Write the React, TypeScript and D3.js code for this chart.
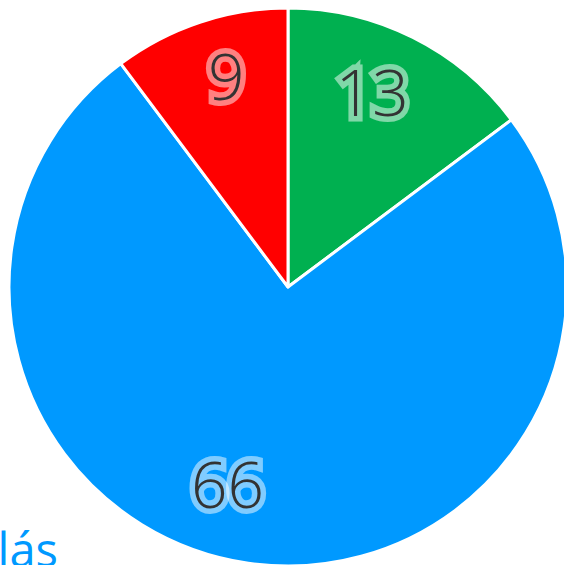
import { useEffect, useRef } from "react";
import * as d3 from "d3";

// slices, clockwise from 12 o'clock
const categories = ["green", "blue", "red"];
const values = [13, 66, 9];
const colors = ["#00b050", "#0099ff", "#ff0000"];
const legendText = "Ajánlás";

export default function App() {
  const ref = useRef<SVGSVGElement | null>(null);

  useEffect(() => {
    const svgEl = ref.current;
    if (!svgEl) return;

    const width = 564;
    const height = 565;
    const cx = 288;
    const cy = 287;
    const r = 279;

    const svg = d3.select(svgEl);
    svg.selectAll("*").remove();
    svg.attr("width", width).attr("height", height).style("display", "block");

    const rows = categories.map((c, i) => ({ name: c, value: values[i], color: colors[i] }));
    const pie = d3.pie<(typeof rows)[number]>().sort(null).value((d) => d.value);
    const arcs = pie(rows);

    const arc = d3.arc<d3.PieArcDatum<(typeof rows)[number]>>().innerRadius(0).outerRadius(r);
    const labelArc = d3
      .arc<d3.PieArcDatum<(typeof rows)[number]>>()
      .innerRadius(r * 0.77)
      .outerRadius(r * 0.77);

    const g = svg.append("g").attr("transform", `translate(${cx},${cy})`);

    g.selectAll("path")
      .data(arcs)
      .enter()
      .append("path")
      .attr("d", arc)
      .attr("fill", (d) => d.data.color)
      .attr("stroke", "#fff")
      .attr("stroke-width", 3)
      .attr("stroke-linejoin", "round");

    // small nudges so labels sit where the original puts them
    const nudge: Record<string, [number, number]> = {
      green: [-12, -2],
      red: [6, -6],
      blue: [-30, -15],
    };

    g.selectAll("text.lbl")
      .data(arcs)
      .enter()
      .append("text")
      .attr("class", "lbl")
      .attr("x", (d) => labelArc.centroid(d)[0] + nudge[d.data.name][0])
      .attr("y", (d) => labelArc.centroid(d)[1] + nudge[d.data.name][1])
      .attr("text-anchor", "middle")
      .attr("dy", "0.36em")
      .attr("font-family", "'Open Sans', sans-serif")
      .attr("font-weight", 300)
      .attr("font-size", 64)
      .attr("fill", "#333")
      .attr("stroke", "rgba(255,255,255,0.5)")
      .attr("stroke-width", 11)
      .attr("stroke-linejoin", "miter")
      .attr("paint-order", "stroke")
      .text((d) => d.data.value);

    svg
      .append("text")
      .attr("x", 58)
      .attr("y", 567)
      .attr("text-anchor", "end")
      .attr("font-family", "'Open Sans', sans-serif")
      .attr("font-size", 47)
      .attr("fill", "#0099ff")
      .text(legendText);
  }, []);

  return (
    <div style={{ position: "fixed", left: 0, top: 0, width: 564, height: 565, overflow: "hidden", background: "#fff" }}>
      <svg ref={ref} />
    </div>
  );
}
